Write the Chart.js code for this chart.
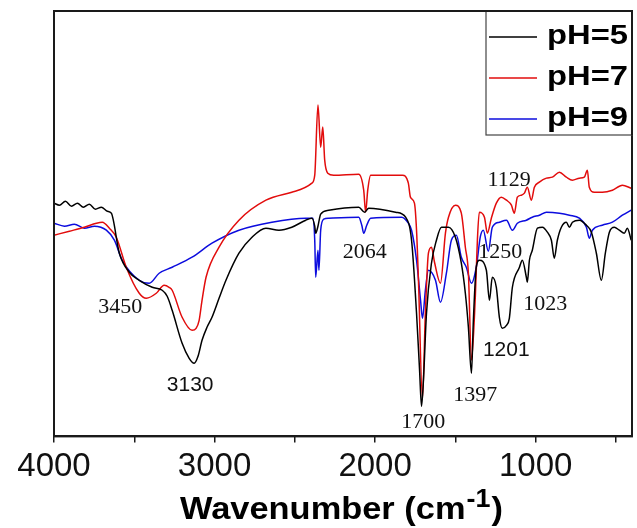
<!DOCTYPE html>
<html>
<head>
<meta charset="utf-8">
<script src="https://cdn.jsdelivr.net/npm/chart.js@4.4.1/dist/chart.umd.min.js"></script>
<style>
html,body{margin:0;padding:0;background:#fff;}
#c{display:block;}
</style>
</head>
<body>
<canvas id="c" width="637" height="528"></canvas>
<script>
// ---------- DATA (wavenumber in cm-1, transmittance in arbitrary units) ----------
const seriesNames = ["pH=5", "pH=7", "pH=9"];
const seriesColors = ["#000000", "rgb(226,12,12)", "rgb(12,12,222)"];

const wn5 = [4000,3966,3929,3891,3854,3817,3780,3742,3705,3668,3643,3593,3531,3469,3388,3326,3295,3264,3202,3158,3127,3103,3078,3047,3016,2972,2929,2848,2767,2680,2599,2519,2432,2394,2376,2370,2356,2339,2289,2102,2065,2040,1872,1810,1773,1742,1723,1711,1699,1680,1649,1618,1587,1543,1500,1463,1438,1419,1400,1388,1370,1351,1307,1288,1270,1245,1226,1208,1182,1164,1145,1101,1083,1058,1052,1039,1021,989,958,927,902,884,865,840,809,790,771,728,684,653,622,591,566,541,510,479,448,429,405];
const ph5 = [233,231,235,230,233,229,232,227,229,225,223,183,164,156,149,146,140,126,93,78,73,80,96,109,119,138,156,183,199,208,206,209,216,218,210,203,210,222,226,229,224,228,224,219,196,123,66,30,56,123,173,196,209,209,199,173,143,109,63,116,169,176,166,136,159,149,119,108,111,118,149,169,176,159,154,176,186,208,209,204,196,178,196,209,214,209,214,216,211,204,183,156,183,204,209,206,203,208,196];

const wn7 = [4000,3904,3811,3736,3699,3655,3612,3550,3469,3425,3363,3314,3283,3264,3202,3140,3115,3096,3078,3053,2972,2848,2680,2519,2394,2376,2356,2339,2326,2314,2295,2258,2102,2071,2059,2046,2028,1830,1793,1780,1755,1742,1730,1705,1687,1668,1649,1630,1593,1562,1543,1500,1463,1438,1419,1400,1376,1363,1351,1319,1301,1276,1245,1214,1182,1151,1133,1114,1089,1070,1052,1027,1008,977,933,896,852,809,771,728,697,678,666,635,585,522,460,405];
const ph7 = [201,205,209,213,214,208,199,169,143,138,143,151,149,146,119,106,108,116,136,159,189,216,236,244,253,261,331,289,309,276,263,261,262,246,224,246,261,261,253,239,233,206,156,38,123,183,189,174,153,203,219,231,223,189,163,76,139,196,224,219,203,218,233,239,236,231,223,239,241,243,249,236,249,254,258,259,264,259,256,258,259,266,249,244,244,246,251,248];

const wn9 = [4000,3935,3873,3811,3748,3674,3624,3575,3469,3407,3345,3264,3140,3016,2848,2643,2432,2388,2376,2370,2356,2350,2339,2320,2289,2102,2083,2071,2052,2028,1835,1793,1773,1742,1717,1705,1687,1668,1624,1593,1556,1525,1494,1463,1432,1400,1370,1344,1326,1295,1270,1226,1182,1145,1114,1058,1021,977,933,852,790,728,684,666,647,585,522,460,405];
const ph9 = [213,210,212,208,210,206,196,176,156,153,163,169,179,193,206,214,218,218,196,159,186,166,206,217,218,219,211,203,211,218,219,213,206,176,136,118,146,166,156,134,163,196,201,179,169,153,169,200,206,185,209,214,216,206,213,216,219,221,224,223,221,218,209,198,206,211,214,221,226];

// x-axis ticks
const xTickValues = [4000,3500,3000,2500,2000,1500,1000,500];
const xTickLabels = ["4000","","3000","","2000","","1000",""];
const xTitleMain = "Wavenumber (cm";
const xTitleSup = "-1";
const xTitleEnd = ")";

// peak annotations: label, wavenumber position, value position, font kind
const annText = ["3450","3130","2064","1700","1397","1250","1201","1129","1023"];
const annWn   = [3587, 3152, 2065, 1700, 1376, 1221, 1183, 1165, 940];
const annVal  = [129, 51, 184, 14, 41, 184, 86, 256, 132];
const annSerif= [true,false,true,true,true,true,false,true,true];

// ---------- CHART ----------
const xyData = [[wn5,ph5],[wn7,ph7],[wn9,ph9]].map(([xs,ys]) => xs.map((x,i)=>({x:x,y:ys[i]})));

const framePlugin = {
  id:'frame',
  afterDatasetsDraw(chart){
    const {ctx, chartArea:a, scales} = chart;
    ctx.save();
    // annotations
    ctx.fillStyle = '#111';
    ctx.textAlign = 'center';
    ctx.textBaseline = 'middle';
    annText.forEach((t,i)=>{
      ctx.font = annSerif[i] ? '22px "Liberation Serif"' : '21px "Liberation Sans"';
      ctx.fillText(t, scales.x.getPixelForValue(annWn[i]), scales.y.getPixelForValue(annVal[i]));
    });
    // frame
    ctx.strokeStyle = '#1a1a1a';
    ctx.lineWidth = 2;
    ctx.strokeRect(a.left, a.top, a.right - a.left, a.bottom - a.top);
    // legend box
    const lx = 486, ly = a.top, lw = a.right - 486, lh = 124;
    ctx.fillStyle = '#fff';
    ctx.fillRect(lx, ly, lw, lh);
    ctx.strokeStyle = '#444';
    ctx.lineWidth = 1.2;
    ctx.strokeRect(lx, ly, lw, lh);
    ctx.strokeStyle = '#1a1a1a';
    ctx.lineWidth = 2;
    ctx.beginPath(); ctx.moveTo(a.left, a.top); ctx.lineTo(a.right, a.top); ctx.lineTo(a.right, ly+lh); ctx.stroke();
    seriesNames.forEach((n,i)=>{
      const yl = 37 + i*41;
      ctx.strokeStyle = seriesColors[i];
      ctx.lineWidth = 1.6;
      ctx.beginPath(); ctx.moveTo(489, yl); ctx.lineTo(537, yl); ctx.stroke();
      ctx.save();
      ctx.font = 'bold 27px "Liberation Sans"';
      ctx.fillStyle = '#000';
      ctx.textAlign = 'left';
      ctx.textBaseline = 'alphabetic';
      const w = ctx.measureText(n).width;
      ctx.translate(547, 44 + i*41);
      ctx.scale(81 / w, 1);
      ctx.fillText(n, 0, 0);
      ctx.restore();
    });
    // axis title with superscript
    ctx.fillStyle = '#000';
    ctx.textAlign = 'left';
    ctx.textBaseline = 'alphabetic';
    const fMain = 'bold 32px "Liberation Sans"', fSup = 'bold 25px "Liberation Sans"';
    ctx.font = fMain; const w1 = ctx.measureText(xTitleMain).width, w3 = ctx.measureText(xTitleEnd).width;
    ctx.font = fSup; const w2 = ctx.measureText(xTitleSup).width;
    const total = w1 + w2 + w3 + 2;
    const s = 323 / total;
    ctx.save();
    ctx.translate(180, 519);
    ctx.scale(s, 1);
    ctx.font = fMain; ctx.fillText(xTitleMain, 0, 0);
    ctx.font = fSup; ctx.fillText(xTitleSup, w1 + 1, -12);
    ctx.font = fMain; ctx.fillText(xTitleEnd, w1 + w2 + 2, 0);
    ctx.restore();
    ctx.restore();
  }
};

new Chart(document.getElementById('c'), {
  type: 'line',
  data: {
    datasets: seriesNames.map((n,i)=>({
      label: n,
      data: xyData[i],
      borderColor: seriesColors[i],
      backgroundColor: seriesColors[i],
      borderWidth: 1.5,
      pointRadius: 0,
      fill: false,
      cubicInterpolationMode: 'monotone'
    }))
  },
  options: {
    responsive: false,
    animation: false,
    devicePixelRatio: 1,
    layout: { padding: { left: 54, right: 5, top: 11, bottom: 36 } },
    plugins: { legend: { display: false }, tooltip: { enabled: false } },
    scales: {
      x: {
        type: 'linear', reverse: true, min: 400, max: 4000,
        afterBuildTicks: (axis) => { axis.ticks = xTickValues.map(v => ({ value: v })); },
        ticks: {
          autoSkip: false, maxRotation: 0, padding: 5, color: '#111',
          font: { family: 'Liberation Sans', size: 33 },
          callback: (v) => { const k = xTickValues.indexOf(v); return k >= 0 ? xTickLabels[k] : ''; }
        },
        grid: { display: true, drawOnChartArea: false, drawTicks: true, tickLength: 6, color: '#1a1a1a', lineWidth: 1.5 },
        border: { display: true, color: '#1a1a1a', width: 2 }
      },
      y: { display: false, min: 0, max: 425 }
    }
  },
  plugins: [framePlugin]
});
</script>
</body>
</html>
